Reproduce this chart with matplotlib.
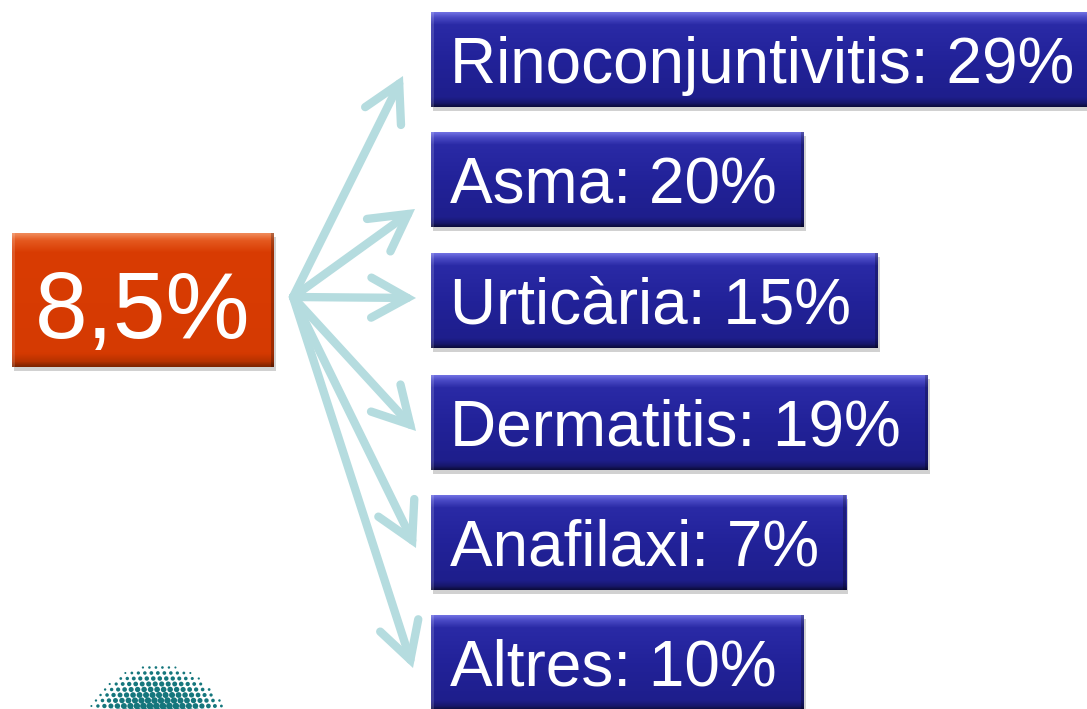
import numpy as np
import matplotlib
matplotlib.use("Agg")
import matplotlib.pyplot as plt
from matplotlib.colors import LinearSegmentedColormap
from matplotlib.patches import Rectangle

# ---- data ----
total_label = "8,5%"
categories = ["Rinoconjuntivitis", "Asma", "Urticària", "Dermatitis", "Anafilaxi", "Altres"]
percentages = [29, 20, 15, 19, 7, 10]

# ---- layout / style ----
W, H = 1087, 709
FONT = ["Liberation Sans", "DejaVu Sans"]
box_tops = [12, 132, 253, 375, 495, 615]
box_h = 95
box_left = 431
text_x = 450
tip_x = [403, 415, 416, 416, 416, 413]
tip_y = [76, 209, 298, 431, 548, 668]
origin = (293, 297)
arrow_col = "#B5DCDF"

blue_cmap = LinearSegmentedColormap.from_list(
    "blue", [(0.0, "#7070E2"), (0.05, "#4B4BC6"), (0.13, "#2A2AA6"),
             (0.5, "#222299"), (0.9, "#1E1E8C"), (0.96, "#17176C"), (1.0, "#0C0C3C")])
red_cmap = LinearSegmentedColormap.from_list(
    "red", [(0.0, "#F08A5A"), (0.05, "#E55A20"), (0.14, "#D93C03"),
            (0.9, "#D53A02"), (0.96, "#B83200"), (1.0, "#7E2400")])

fig = plt.figure(figsize=(W / 100, H / 100), dpi=100)
ax = fig.add_axes([0, 0, 1, 1])
ax.set_xlim(0, W)
ax.set_ylim(H, 0)
ax.axis("off")
fig.canvas.draw()
renderer = fig.canvas.get_renderer()

grad = np.linspace(0, 1, 200).reshape(-1, 1)


def bevel_box(x0, y0, w, h, cmap, z=2):
    ax.add_patch(Rectangle((x0 + 2, y0 + 4), w, h, facecolor="#000000",
                           alpha=0.18, edgecolor="none", zorder=z - 1))
    ax.imshow(grad, extent=[x0, x0 + w, y0 + h, y0], cmap=cmap, aspect="auto",
              interpolation="bilinear", zorder=z)
    ax.add_patch(Rectangle((x0, y0), 3, h, facecolor="white", alpha=0.15,
                           edgecolor="none", zorder=z + 0.1))
    ax.add_patch(Rectangle((x0 + w - 3, y0), 3, h, facecolor="black", alpha=0.25,
                           edgecolor="none", zorder=z + 0.1))


# red total box
bevel_box(12, 233, 262, 134, red_cmap)
ax.text(35, 338, total_label, color="white", fontsize=68, family=FONT,
        ha="left", va="baseline", zorder=5)

# blue category boxes
for cat, pct, top in zip(categories, percentages, box_tops):
    t = ax.text(text_x, top + 71, f"{cat}: {pct}%", color="white", fontsize=46,
                family=FONT, ha="left", va="baseline", zorder=5)
    right = t.get_window_extent(renderer).x1 + 27
    bevel_box(box_left, top, right - box_left, box_h, blue_cmap)

# arrows
for tx, ty in zip(tip_x, tip_y):
    ax.annotate("", xy=(tx, ty), xytext=origin,
                arrowprops=dict(arrowstyle="->,head_length=0.65,head_width=0.36",
                                color=arrow_col, lw=6, shrinkA=0, shrinkB=0,
                                mutation_scale=40, capstyle="round",
                                joinstyle="miter"),
                zorder=4)

# halftone logo fragment (bottom-left decoration)
gx, gy = np.meshgrid(np.arange(50, 260, 6.5), np.arange(662, 714, 5.5))
gx = gx + (gy - 662) * 0.35
cx, cy, rx, ry = 158, 750, 78, 85
d = ((gx - cx) / rx) ** 2 + ((gy - cy) / ry) ** 2
mask = d < 1
sz = (1 - d[mask]) * 30 + 2
ax.scatter(gx[mask], gy[mask], s=sz, color="#15767C", linewidths=0, zorder=1)

fig.savefig("out.png", dpi=100, facecolor="white")
